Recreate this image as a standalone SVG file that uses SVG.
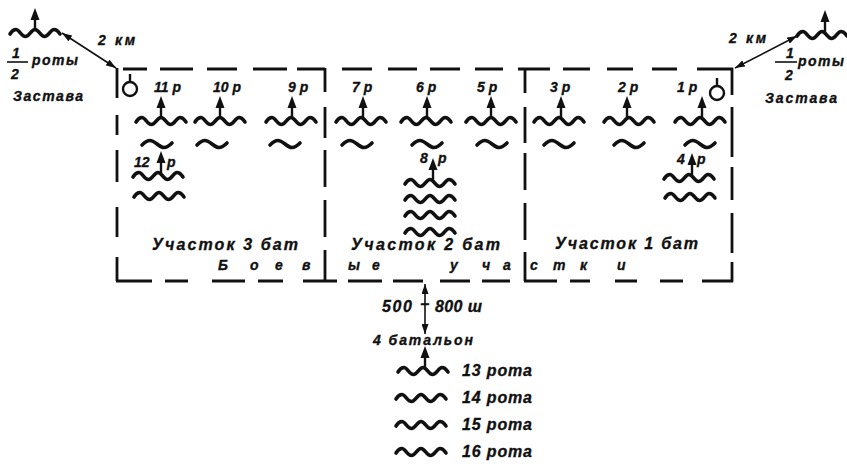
<svg xmlns="http://www.w3.org/2000/svg" xmlns:xlink="http://www.w3.org/1999/xlink" width="847" height="471" viewBox="0 0 847 471">
<style>
.t{font-family:"Liberation Sans",Arial,sans-serif;font-weight:bold;font-style:italic;fill:#111;stroke:#111;stroke-width:0.35}
.s13{font-size:14px}.s14{font-size:14px}.s15{font-size:16px}
.w{fill:none;stroke:#111;stroke-width:3.6;stroke-linecap:round;stroke-linejoin:round}
.box{fill:none;stroke:#111;stroke-width:2.8;stroke-linecap:butt}
.con{fill:none;stroke:#111;stroke-width:1.6}
.arl{stroke:#111;stroke-width:2.4}
.hd{fill:#111}
.post{fill:none;stroke:#111;stroke-width:2.4}
</style>
<defs>
<path id="wv" class="w" d="M-25,1 C-23.5,-1.5 -22,-3.5 -19,-3.5 S-13.5,3.5 -9.5,3.5 S-3.8,-3.5 0,-3.5 S5.5,3.5 9.5,3.5 S15.5,-3.5 19,-3.5 S23.5,-1 25,1"/>
<path id="sw" class="w" d="M-15,1 C-12,-2 -10,-3.5 -7,-3.5 C-2,-3.5 2,3.5 7,3.5 C10,3.5 12,2 15,-1"/>
<g id="ar"><line class="arl" x1="0" y1="0" x2="0" y2="-13"/><path class="hd" d="M0,-22 L-4.5,-10 L4.5,-10 Z"/></g>
<marker id="ah" viewBox="0 0 10 7" refX="10" refY="3.5" markerWidth="10" markerHeight="7" markerUnits="userSpaceOnUse" orient="auto-start-reverse"><path d="M0,0 L10,3.5 L0,7 Z" fill="#111"/></marker>
</defs>
<rect width="847" height="471" fill="#fff"/>

<g id="connectors">
<line class="con" x1="62" y1="33" x2="116" y2="68" marker-start="url(#ah)" marker-end="url(#ah)"/>
<line class="con" x1="797" y1="36" x2="735" y2="68" marker-start="url(#ah)" marker-end="url(#ah)"/>
<line class="con" x1="425" y1="284" x2="425" y2="334" marker-start="url(#ah)" marker-end="url(#ah)"/>
</g>

<g id="sector-boundaries">
<path class="box" d="M123,69H147 M160,69H193 M207,69H237 M253,69H287 M297,69H325 M342,69H372 M388,69H417 M430,69H460 M475,69H503 M518,69H550 M563,69H590 M607,69H633 M652,69H677 M697,69H733"/>
<path class="box" d="M117,68V98 M117,115V135 M117,150V182 M117,207V237 M117,257V281"/>
<path class="box" d="M732,68V95 M732,107V157 M732,167V200 M732,213V253 M732,262V282"/>
<path class="box" d="M325,68V92 M325,107V138 M325,150V187 M325,200V237 M325,250V281"/>
<path class="box" d="M525,68V93 M525,107V143 M525,153V190 M525,203V240 M525,252V281"/>
<path class="box" d="M116,281H152 M165,281H188 M212,281H245 M258,281H283 M303,281H337 M348,281H382 M393,281H423 M440,281H470 M482,281H510 M524,281H557 M570,281H590 M615,281H637 M660,281H683 M702,281H733"/>
</g>

<g id="outpost-left">
<use href="#wv" x="35" y="33"/>
<use href="#ar" x="35" y="30"/>
<text class="t s14" x="98" y="45" textLength="37">2 км</text>
<text class="t s14" x="12" y="58">1</text>
<line x1="7" y1="62" x2="28" y2="62" stroke="#111" stroke-width="1.6"/>
<text class="t s14" x="11" y="79">2</text>
<text class="t s14" x="32" y="65" textLength="46">роты</text>
<text class="t s14" x="13" y="101" textLength="70">Застава</text>
</g>

<g id="outpost-right">
<use href="#wv" x="822" y="35"/>
<use href="#ar" x="825" y="32"/>
<text class="t s14" x="729" y="43" textLength="37">2 км</text>
<text class="t s14" x="786" y="58">1</text>
<line x1="775" y1="62" x2="797" y2="62" stroke="#111" stroke-width="1.6"/>
<text class="t s14" x="785" y="80">2</text>
<text class="t s14" x="798" y="66" textLength="46">роты</text>
<text class="t s14" x="765" y="103" textLength="72">Застава</text>
</g>

<g id="post-left"><line class="post" x1="130" y1="74" x2="130" y2="82"/><circle class="post" cx="130" cy="89" r="7"/></g>
<g id="post-right"><line class="post" x1="717" y1="78" x2="717" y2="86"/><circle class="post" cx="717" cy="93" r="7"/></g>

<g id="co-11"><text class="t s13" x="154" y="92">11 р</text><use href="#ar" x="161" y="118"/><use href="#wv" x="161" y="121"/><use href="#sw" x="157" y="144"/></g>
<g id="co-10"><text class="t s13" x="213" y="92">10 р</text><use href="#ar" x="220" y="118"/><use href="#wv" x="220" y="121"/><use href="#sw" x="212" y="144"/></g>
<g id="co-9"><text class="t s13" x="288" y="92">9 р</text><use href="#ar" x="292" y="118"/><use href="#wv" x="291" y="121"/><use href="#sw" x="285" y="144"/></g>
<g id="co-12"><text class="t s13" x="134" y="167">12</text><text class="t s13" x="167" y="167">р</text><use href="#ar" x="161" y="173"/><use href="#wv" x="158" y="176"/><use href="#wv" x="159" y="196"/></g>

<g id="co-7"><text class="t s13" x="352" y="92">7 р</text><use href="#ar" x="363" y="118"/><use href="#wv" x="361" y="121"/><use href="#sw" x="357" y="144"/></g>
<g id="co-6"><text class="t s13" x="416" y="92">6 р</text><use href="#ar" x="427" y="118"/><use href="#wv" x="426" y="121"/><use href="#sw" x="427" y="144"/></g>
<g id="co-5"><text class="t s13" x="477" y="92">5 р</text><use href="#ar" x="491" y="118"/><use href="#wv" x="491" y="121"/><use href="#sw" x="492" y="144"/></g>
<g id="co-8"><text class="t s13" x="420" y="163">8</text><text class="t s13" x="438" y="163">р</text><use href="#ar" x="433" y="180"/><use href="#wv" x="430" y="183"/><use href="#wv" x="430" y="199"/><use href="#wv" x="430" y="215"/><use href="#wv" x="430" y="232"/></g>

<g id="co-3"><text class="t s13" x="550" y="92">3 р</text><use href="#ar" x="561" y="118"/><use href="#wv" x="559" y="121"/><use href="#sw" x="559" y="144"/></g>
<g id="co-2"><text class="t s13" x="618" y="92">2 р</text><use href="#ar" x="627" y="118"/><use href="#wv" x="629" y="121"/><use href="#sw" x="629" y="144"/></g>
<g id="co-1"><text class="t s13" x="677" y="92">1 р</text><use href="#ar" x="702" y="118"/><use href="#wv" x="700" y="121"/><use href="#sw" x="700" y="144"/></g>
<g id="co-4"><text class="t s13" x="677" y="164">4</text><text class="t s13" x="697" y="164">р</text><use href="#ar" x="692" y="175"/><use href="#wv" x="689" y="178"/><use href="#wv" x="690" y="197"/></g>

<g id="sector-labels">
<text class="t s15" x="152" y="250" textLength="146">Участок 3 бат</text>
<text class="t s15" x="351" y="250" textLength="149">Участок 2 бат</text>
<text class="t s15" x="555" y="249" textLength="143">Участок 1 бат</text>
<text class="t s14" x="218 250 275 302 348 372 410 450 482 503 530 553 580 617" y="270">Боевые участки</text>
</g>

<g id="distance">
<text class="t s15" x="382" y="312" textLength="30">500</text>
<text class="t s15" x="425" y="309" text-anchor="middle">–</text>
<text class="t s15" x="435" y="312" textLength="47">800 ш</text>
</g>

<g id="bat-4">
<text class="t s14" x="373" y="345" textLength="100">4 батальон</text>
<use href="#ar" x="425" y="368"/>
<use href="#wv" x="423" y="371"/>
<use href="#wv" x="421" y="398"/>
<use href="#wv" x="421" y="425"/>
<use href="#wv" x="421" y="452"/>
<text class="t s15" x="462" y="376" textLength="70">13 рота</text>
<text class="t s15" x="462" y="403" textLength="70">14 рота</text>
<text class="t s15" x="462" y="430" textLength="70">15 рота</text>
<text class="t s15" x="462" y="457" textLength="70">16 рота</text>
</g>
</svg>
